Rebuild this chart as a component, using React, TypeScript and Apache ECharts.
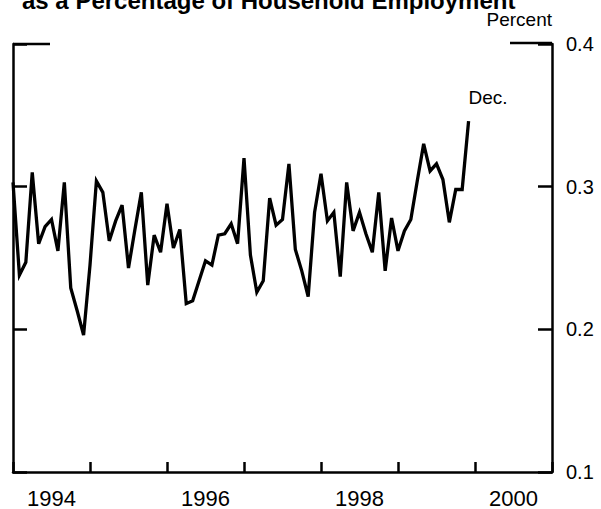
import React, { useEffect, useRef } from "react";
import * as echarts from "echarts";

const startYear = 1994;
const endYear = 2001;
const values = [
  0.303, 0.238, 0.247, 0.310, 0.260, 0.272, 0.277, 0.255, 0.303, 0.229, 0.213, 0.196,
  0.245, 0.304, 0.296, 0.262, 0.276, 0.287, 0.243, 0.270, 0.296, 0.231, 0.266, 0.254,
  0.288, 0.257, 0.270, 0.218, 0.220, 0.234, 0.248, 0.245, 0.266, 0.267, 0.274, 0.260,
  0.320, 0.252, 0.226, 0.234, 0.292, 0.273, 0.277, 0.316, 0.256, 0.241, 0.223, 0.282,
  0.309, 0.276, 0.282, 0.237, 0.303, 0.269, 0.282, 0.267, 0.254, 0.296, 0.241, 0.278,
  0.255, 0.269, 0.277, 0.304, 0.330, 0.311, 0.316, 0.305, 0.275, 0.298, 0.298, 0.346,
];
const yMin = 0.1;
const yMax = 0.4;
const yStep = 0.1;
const yearLabels = [1994, 1996, 1998, 2000];
const titleText = "as a Percentage of Household Employment";
const unitText = "Percent";
const endNote = "Dec.";

const FONT = "'Liberation Sans', Arial, Helvetica, sans-serif";

export default function App() {
  const ref = useRef<HTMLDivElement>(null);
  useEffect(() => {
    const chart = echarts.init(ref.current!, null, { renderer: "svg" });
    const data = values.map((v, i) => [startYear + i / 12, v]);
    const axisLineStyle = { color: "#000", width: 2.5 };
    chart.setOption({
      animation: false,
      backgroundColor: "#fff",
      grid: { left: 13, right: 49, top: 44, bottom: 34 },
      xAxis: {
        type: "value",
        min: startYear,
        max: endYear,
        interval: 1,
        axisLine: { show: true, lineStyle: axisLineStyle },
        axisTick: { show: true, inside: true, length: 10, lineStyle: { color: "#000", width: 2.5 } },
        axisLabel: {
          customValues: yearLabels.map((y) => y + 0.5),
          formatter: (v: number) => String(Math.floor(v)),
          color: "#000",
          fontSize: 22,
          fontFamily: FONT,
          margin: 15,
        },
        splitLine: { show: false },
      },
      yAxis: [
        {
          type: "value",
          position: "right",
          min: yMin,
          max: yMax,
          interval: yStep,
          axisLine: { show: true, lineStyle: axisLineStyle },
          axisTick: { show: true, inside: true, length: 14, lineStyle: { color: "#000", width: 2.5 } },
          axisLabel: {
            color: "#000",
            fontSize: 20,
            fontFamily: FONT,
            margin: 14,
            formatter: (v: number) => v.toFixed(1),
          },
          splitLine: { show: false },
        },
        {
          type: "value",
          position: "left",
          min: yMin,
          max: yMax,
          interval: yStep,
          axisLine: { show: true, lineStyle: axisLineStyle },
          axisTick: { show: true, inside: true, length: 14, lineStyle: { color: "#000", width: 2.5 } },
          axisLabel: { show: false },
          splitLine: { show: false },
        },
      ],
      series: [
        {
          type: "line",
          data,
          showSymbol: false,
          symbol: "none",
          lineStyle: { color: "#000", width: 3.3, join: "miter", miterLimit: 4 },
        },
      ],
    });

    const topL = chart.convertToPixel({ xAxisIndex: 0, yAxisIndex: 0 }, [startYear, yMax]) as number[];
    const topR = chart.convertToPixel({ xAxisIndex: 0, yAxisIndex: 0 }, [endYear, yMax]) as number[];
    const last = chart.convertToPixel({ xAxisIndex: 0, yAxisIndex: 0 }, data[data.length - 1]) as number[];

    chart.setOption({
      graphic: [
        {
          type: "line",
          shape: { x1: topL[0], y1: topL[1], x2: topL[0] + 37, y2: topL[1] },
          style: { stroke: "#000", lineWidth: 2.5 },
        },
        {
          type: "line",
          shape: { x1: topR[0] - 42, y1: topR[1] - 1, x2: topR[0], y2: topR[1] - 1 },
          style: { stroke: "#000", lineWidth: 2.5 },
        },
        {
          type: "text",
          x: 22,
          y: 0,
          style: {
            text: titleText,
            fill: "#000",
            font: `bold 24px ${FONT}`,
            align: "left",
            verticalAlign: "middle",
          },
        },
        {
          type: "text",
          x: topR[0],
          y: 19,
          style: {
            text: unitText,
            fill: "#000",
            font: `19px ${FONT}`,
            align: "right",
            verticalAlign: "middle",
          },
        },
        {
          type: "text",
          x: last[0],
          y: last[1] - 24,
          style: {
            text: endNote,
            fill: "#000",
            font: `19px ${FONT}`,
            align: "left",
            verticalAlign: "middle",
          },
        },
      ],
    });
    return () => chart.dispose();
  }, []);
  return (
    <div
      ref={ref}
      style={{ position: "absolute", left: 0, top: 0, width: 601, height: 509 }}
    />
  );
}
